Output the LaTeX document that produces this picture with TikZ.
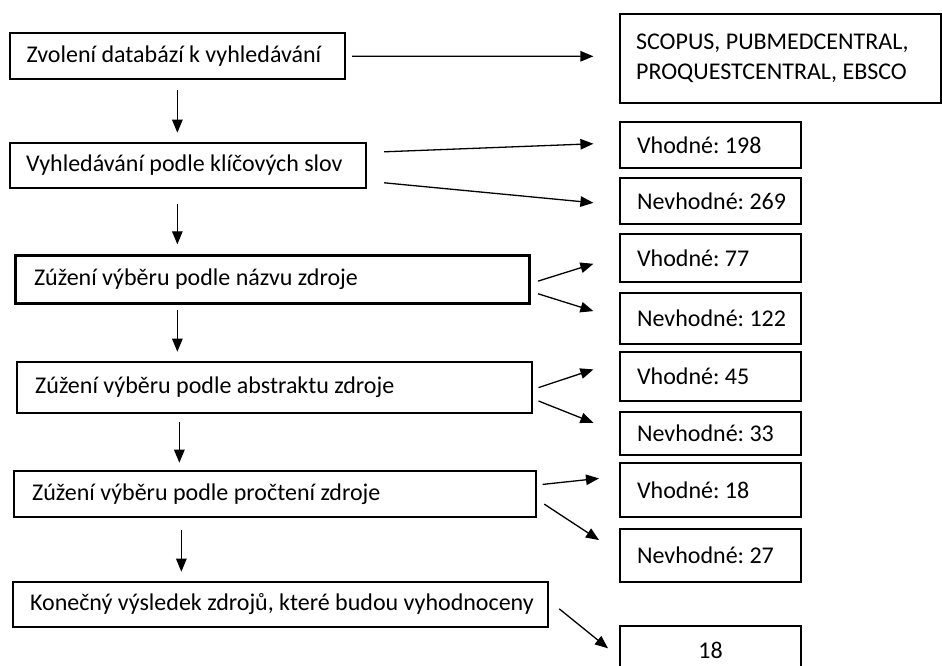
\documentclass[tikz,border=0pt]{standalone}
\usepackage{fontspec}
\setmainfont{Carlito}
\usetikzlibrary{arrows.meta,calc}
\frenchspacing
\begin{document}
\begin{tikzpicture}[x=1pt,y=1pt,
  box/.style={draw, line width=2.2pt, anchor=north west, inner xsep=0pt, inner ysep=0pt,
    align=left, font=\fontsize{24}{29.5}\selectfont, text width=#1,
    execute at begin node={\spaceskip=0pt\xspaceskip=0pt}},
  cbox/.style={draw, line width=2.2pt, anchor=north west, inner xsep=0pt, inner ysep=0pt,
    align=center, font=\fontsize{24}{29.5}\selectfont, text width=#1},
  arr/.style={line width=1.3pt, -{Triangle[length=13pt,width=10.5pt]}}
]
\useasboundingbox[fill=white] (0,0) rectangle (942,-666);
% left column
\node[box=334.5pt, minimum height=46.3pt] (b1) at (9,-32) {\hspace*{16.5pt}Zvolení databází k vyhledávání};
\node[box=356pt, minimum height=45pt] (b2) at (9,-141.7) {\hspace*{16pt}Vyhledávání podle klíčových slov};
\node[box=514pt, minimum height=48pt] (b3) at (14.4,-254.3) {\hspace*{18.5pt}Zúžení výběru podle názvu zdroje};
\node[box=515pt, minimum height=51pt] (b4) at (15.6,-361) {\hspace*{18.5pt}Zúžení výběru podle abstraktu zdroje};
\node[box=521.5pt, minimum height=46pt] (b5) at (13,-470) {\hspace*{18pt}Zúžení výběru podle pročtení zdroje};
\node[box=534.5pt, minimum height=45pt] (b6) at (12,-580.7) {\hspace*{17pt}Konečný výsledek zdrojů, které budou vyhodnoceny};
% right column
\node[box=321pt, minimum height=89pt] (db) at (619,-12.7) {\hspace*{16pt}SCOPUS, PUBMEDCENTRAL,\\\hspace*{16pt}PROQUESTCENTRAL, EBSCO\par\vspace*{6pt}};
\node[box=181pt, minimum height=45.7pt] (v198) at (619,-121) {\hspace*{17pt}Vhodné: 198};
\node[box=181pt, minimum height=46pt] (n269) at (619,-176.7) {\hspace*{17pt}Nevhodné: 269};
\node[box=181pt, minimum height=48pt] (v77) at (619,-232.7) {\hspace*{17pt}Vhodné: 77};
\node[box=181pt, minimum height=51pt] (n122) at (619,-291.7) {\hspace*{17pt}Nevhodné: 122};
\node[box=181pt, minimum height=49pt] (v45) at (619,-351) {\hspace*{17pt}Vhodné: 45};
\node[box=181pt, minimum height=43pt] (n33) at (619,-411) {\hspace*{17pt}Nevhodné: 33};
\node[box=181pt, minimum height=54pt] (v18) at (619,-461.7) {\hspace*{17pt}Vhodné: 18};
\node[box=181pt, minimum height=53.3pt] (n27) at (619,-527.7) {\hspace*{17pt}Nevhodné: 27};
\node[cbox=181pt, minimum height=50pt] (r18) at (619,-624.5) {18};
% horizontal / side arrows
\draw[arr] ($(b1.east)+(6.5,0)$) -- ($(db.west)+(-25.6,2)$);
\draw[arr] ($(b2.east)+(17,13.5)$) -- ($(v198.west)+(-25.6,1.2)$);
\draw[arr] ($(b2.east)+(17,-17.5)$) -- ($(n269.west)+(-25.6,-2)$);
\draw[arr] ($(b3.east)+(7.5,-1.7)$) -- ($(v77.west)+(-25.6,-6)$);
\draw[arr] ($(b3.east)+(7.5,-14.4)$) -- ($(n122.west)+(-25.6,7.2)$);
\draw[arr] ($(b4.east)+(5.7,0)$) -- ($(v45.west)+(-25.6,7.2)$);
\draw[arr] ($(b4.east)+(5.7,-13.4)$) -- ($(n33.west)+(-25.6,10.8)$);
\draw[arr] ($(b5.east)+(6,9.7)$) -- ($(v18.west)+(-20,11.4)$);
\draw[arr] ($(b5.east)+(7.5,-10)$) -- ($(n27.west)+(-20,15.4)$);
\draw[arr] ($(b6.east)+(10.5,-4.5)$) -- ($(r18.west)+(-11,2.3)$);
% down arrows
\draw[arr] ($(b1.south)+(0,-10)$) -- ($(b1.south |- b2.north)+(0,9)$);
\draw[arr] ($(b1.south |- b2.south)+(0,-15)$) -- ($(b1.south |- b3.north)+(0,10)$);
\draw[arr] ($(b1.south |- b3.south)+(0,-5.7)$) -- ($(b1.south |- b4.north)+(0,9.3)$);
\draw[arr] ($(b1.south |- b4.south)+(2,-7.7)$) -- ($(b1.south |- b5.north)+(2,7.3)$);
\draw[arr] ($(b1.south |- b5.south)+(4,-12)$) -- ($(b1.south |- b6.north)+(4,9)$);
\end{tikzpicture}
\end{document}
